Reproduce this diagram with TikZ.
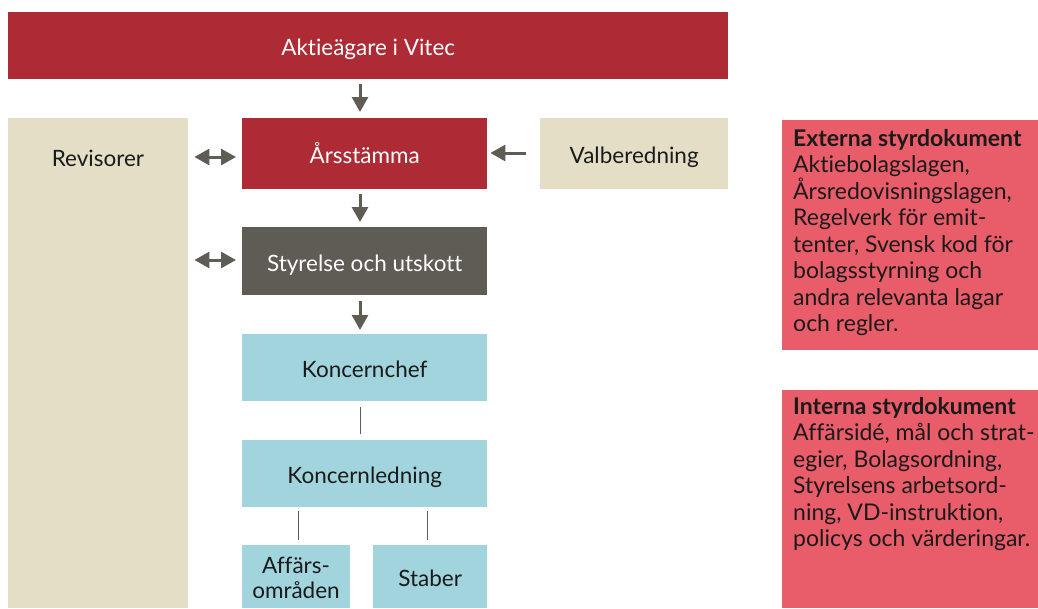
\documentclass[tikz,border=0pt]{standalone}
\usepackage{fontspec}
\setmainfont{Lato}[Ligatures={NoCommon,NoRequired,NoContextual}]
\usetikzlibrary{arrows.meta,positioning}
\definecolor{darkred}{HTML}{AE2B35}
\definecolor{beige}{HTML}{E4DEC6}
\definecolor{slate}{HTML}{5F5C55}
\definecolor{lightblue}{HTML}{A1D4DD}
\definecolor{pinkred}{HTML}{E95C6A}
\definecolor{txt}{HTML}{1A1A1A}
\newcommand\myinfofont{\fontsize{23}{26.5}\selectfont\lineskiplimit -20pt\relax}
\tikzset{
  box/.style={draw=none, inner sep=0pt, font=\fontsize{22.5}{25}\selectfont, text=txt},
  lbl/.style={box, text height=20pt, text depth=0pt},
  redbox/.style={lbl, fill=darkred, text=white},
  graybox/.style={lbl, fill=slate, text=white},
  beigebox/.style={lbl, fill=beige},
  bluebox/.style={lbl, fill=lightblue},
  infobox/.style={box, fill=pinkred, anchor=north west, minimum width=256pt},
  infotext/.style={box, align=left, anchor=north west, inner sep=0pt, font=\myinfofont},
  flow/.style={draw=slate, line width=3pt, -{Triangle[length=15pt,width=16pt]}},
  dflow/.style={draw=slate, line width=3pt, {Triangle[length=15pt,width=16pt]}-{Triangle[length=15pt,width=16pt]}},
  thin/.style={draw=slate, line width=1pt}
}
\begin{document}
\begin{tikzpicture}[x=1pt,y=-1pt]
\useasboundingbox (0,0) rectangle (1038,608);
% nodes
\node[redbox, minimum width=720pt, minimum height=67pt, anchor=north west] (top) at (8,12) {Aktieägare i Vitec};
\node[beigebox, minimum width=180pt, minimum height=490pt, anchor=north west] (rev) at (8,118) {};
\node[box, anchor=center] (revt) at (98,158) {Revisorer};
\node[redbox, minimum width=245pt, minimum height=71pt, anchor=north west] (arss) at (242,118) {Årsstämma};
\node[beigebox, minimum width=188pt, minimum height=71pt, anchor=north west] (val) at (540,118) {Valberedning};
\node[graybox, minimum width=245pt, minimum height=68pt, anchor=north west] (sty) at (242,227) {Styrelse och utskott};
\node[bluebox, minimum width=245pt, minimum height=67pt, anchor=north west] (kc) at (242,334) {Koncernchef};
\node[bluebox, minimum width=245pt, minimum height=67pt, anchor=north west] (kl) at (242,440) {Koncernledning};
\node[box, fill=lightblue, minimum width=108pt, minimum height=63pt, anchor=north west] (aff) at (242,545) {};
\node[box, align=center, anchor=center] (afft) at (296,578) {Affärs-\\områden};
\node[bluebox, minimum width=114pt, minimum height=63pt, anchor=north west] (stab) at (373,545) {Staber};
\node[infobox, minimum height=230pt] (ext) at (782,120) {};
\node[infotext] (extt) at (793,129) {\textbf{Externa styrdokument}\\Aktiebolagslagen,\\Årsredovisningslagen,\\Regelverk för emit-\\tenter, Svensk kod för\\bolagsstyrning och\\andra relevanta lagar\\och regler.};
\node[infobox, minimum height=218pt] (int) at (782,390) {};
\node[infotext] (intt) at (793,397) {\textbf{Interna styrdokument}\\Affärsidé, mål och strat-\\egier, Bolagsordning,\\Styrelsens arbetsord-\\ning, VD-instruktion,\\policys och värderingar.};
% connectors
\draw[flow, shorten <=5pt, shorten >=6pt] (top.south -| 360,0) -- (arss.north -| 360,0);
\draw[flow, shorten <=5pt, shorten >=5pt] (arss.south -| 360,0) -- (sty.north -| 360,0);
\draw[flow, shorten <=6pt, shorten >=4pt] (sty.south -| 360,0) -- (kc.north -| 360,0);
\draw[thin, shorten <=6pt, shorten >=6pt] (kc.south -| 360,0) -- (kl.north -| 360,0);
\draw[thin, shorten <=4pt, shorten >=5pt] (kl.south -| 298,0) -- (aff.north -| 298,0);
\draw[thin, shorten <=4pt, shorten >=5pt] (kl.south -| 427,0) -- (stab.north -| 427,0);
\draw[dflow, shorten <=6pt, shorten >=6pt] (rev.east |- 0,157) -- (arss.west |- 0,157);
\draw[dflow, shorten <=6pt, shorten >=6pt] (rev.east |- 0,260) -- (sty.west |- 0,260);
\draw[flow, shorten <=14pt, shorten >=3pt] (val.west |- 0,153) -- (arss.east |- 0,153);
\end{tikzpicture}
\end{document}
